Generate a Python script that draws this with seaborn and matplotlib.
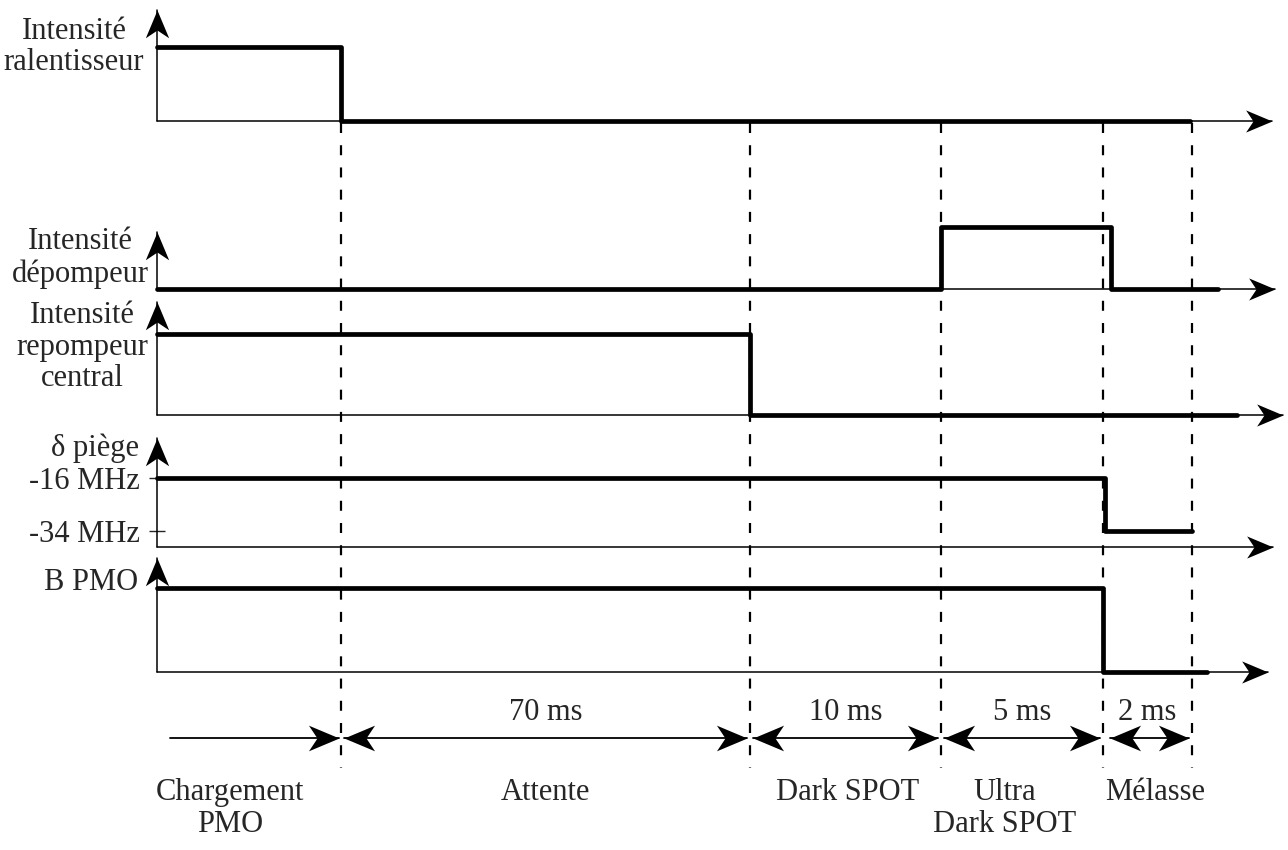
import numpy as np
import pandas as pd
import seaborn as sns
import matplotlib.pyplot as plt
from matplotlib.path import Path

# Phases du cycle (positions schématiques, origine = axe vertical)
phase_edges = [0, 184, 593, 784, 946, 1035]
phase_names = ["Chargement\nPMO", "Attente", "Dark SPOT", "Ultra\nDark SPOT", "Mélasse"]
phase_durations = ["", "70 ms", "10 ms", "5 ms", "2 ms"]

# Signaux : instants de changement et niveaux
ralentisseur_t = [0, 184, 1033]
ralentisseur_v = [1, 0, 0]
depompeur_t = [0, 784, 954, 1061]
depompeur_v = [0, 1, 0, 0]
repompeur_t = [0, 593, 1080]
repompeur_v = [1, 0, 0]
piege_t = [0, 948, 1035]
piege_v = [-16, -34, -34]
piege_ticks = [-16, -34]
piege_labels = ["-16 MHz", "-34 MHz"]
bpmo_t = [0, 946, 1050]
bpmo_v = [1, 0, 0]

W, H = 1288, 850
X0 = 157          # position (px) de l'axe vertical
XMAX = W - X0
FS = 22


def stealth(angle):
    """Pointe de flèche 'stealth', sommet en (0, 0)."""
    th = np.deg2rad(angle)
    pts = np.array([(0, 0), (-1, 0.42), (-0.72, 0), (-1, -0.42), (0, 0)])
    rot = np.array([[np.cos(th), -np.sin(th)], [np.sin(th), np.cos(th)]])
    codes = [Path.MOVETO, Path.LINETO, Path.LINETO, Path.LINETO, Path.CLOSEPOLY]
    return Path(pts @ rot.T, codes)


# mise en page des voies : (valeur, px) de référence, ligne de base, pointe, fin d'axe
channels = [
    dict(label="Intensité\nralentisseur", t=ralentisseur_t, v=ralentisseur_v,
         ref=((0, 121), (1, 47)), base=121, tip=10, end=1272, lab=(74, 47)),
    dict(label="Intensité\ndépompeur", t=depompeur_t, v=depompeur_v,
         ref=((0, 289), (1, 227)), base=289, tip=232, end=1275, lab=(80, 258)),
    dict(label="Intensité\nrepompeur\ncentral", t=repompeur_t, v=repompeur_v,
         ref=((0, 415), (1, 334)), base=415, tip=302, end=1283, lab=(82, 347)),
    dict(label="δ piège", t=piege_t, v=piege_v,
         ref=((-16, 478), (-34, 531)), base=547, tip=438, end=1273, lab=(95, 448)),
    dict(label="B PMO", t=bpmo_t, v=bpmo_v,
         ref=((0, 672), (1, 588)), base=672, tip=558, end=1268, lab=(91, 583)),
]

sns.set_style("white")
plt.rcParams['font.family'] = ['Liberation Serif', 'DejaVu Serif']

fig = plt.figure(figsize=(W / 100, H / 100), dpi=100)

# axe de fond en pixels : pointillés, phases, étiquettes
bg = fig.add_axes([0, 0, 1, 1])
bg.set_xlim(-X0, XMAX)
bg.set_ylim(H, 0)
bg.axis('off')

for ch in channels:
    (va, pa), (vb, pb) = ch['ref']
    s = (vb - va) / (pa - pb)

    def val(px, va=va, pa=pa, s=s):
        return va + (pa - px) * s

    top = min(ch['tip'], pb) - 8
    bottom = ch['base'] + 8
    ax = fig.add_axes([X0 / W, 1 - bottom / H, XMAX / W, (bottom - top) / H])
    ax.set_facecolor('none')
    ax.set_xlim(0, XMAX)
    ax.set_ylim(val(bottom), val(top))
    for sp in ax.spines.values():
        sp.set_visible(False)
    ax.set_xticks([])

    yb = val(ch['base'])
    ytip = val(ch['tip'])
    # axes fléchés
    ax.plot([0, ch['end'] - X0], [yb, yb], color='black', lw=1.1, clip_on=False)
    ax.plot([ch['end'] - X0], [yb], marker=stealth(0), ms=38, mew=0,
            color='black', clip_on=False)
    ax.plot([0, 0], [yb, ytip], color='black', lw=1.1, clip_on=False)
    ax.plot([0], [ytip], marker=stealth(90), ms=40, mew=0,
            color='black', clip_on=False)

    df = pd.DataFrame({'t': ch['t'], 'v': ch['v']})
    sns.lineplot(data=df, x='t', y='v', drawstyle='steps-post', color='black',
                 lw=3.4, estimator=None, sort=False, ax=ax)
    for ln in ax.lines:
        ln.set_clip_on(False)
    ax.set(xlabel='', ylabel='')

    if ch['label'].startswith('δ'):
        ax.set_yticks(piege_ticks, labels=piege_labels)
        ax.tick_params(axis='y', direction='inout', length=12, width=1,
                       pad=6, labelsize=FS, left=True)
    else:
        ax.set_yticks([])

    bg.text(ch['lab'][0] - X0, ch['lab'][1], ch['label'], ha='center',
            va='center', fontsize=FS, linespacing=1.12)

# limites de phases en pointillés
bg.vlines(phase_edges[1:], 123, 768, colors='black', lw=1.6,
          linestyles=(0, (4.5, 5.5)))

# flèches de durée et noms des phases
arrow_y = 738
label_x = [230, 545, 848, 1005, 1155]
for i, name in enumerate(phase_names):
    a, b = phase_edges[i], phase_edges[i + 1]
    if i == 0:
        xa = 13
        bg.plot([xa, b - 2], [arrow_y, arrow_y], color='black', lw=1.3)
        bg.plot([b - 2], [arrow_y], marker=stealth(0), ms=44, mew=0, color='black')
    else:
        xa = a + (7 if i == 4 else 3)
        bg.plot([xa, b - 3], [arrow_y, arrow_y], color='black', lw=1.3)
        bg.plot([b - 3], [arrow_y], marker=stealth(0), ms=44, mew=0, color='black')
        bg.plot([xa], [arrow_y], marker=stealth(180), ms=44, mew=0, color='black')
        bg.text((a + b) / 2, 712, phase_durations[i], ha='center', va='center',
                fontsize=FS)
    bg.text(label_x[i] - X0, 778, name, ha='center', va='top', fontsize=FS,
            linespacing=1.12)

fig.savefig('out.png', dpi=100)
